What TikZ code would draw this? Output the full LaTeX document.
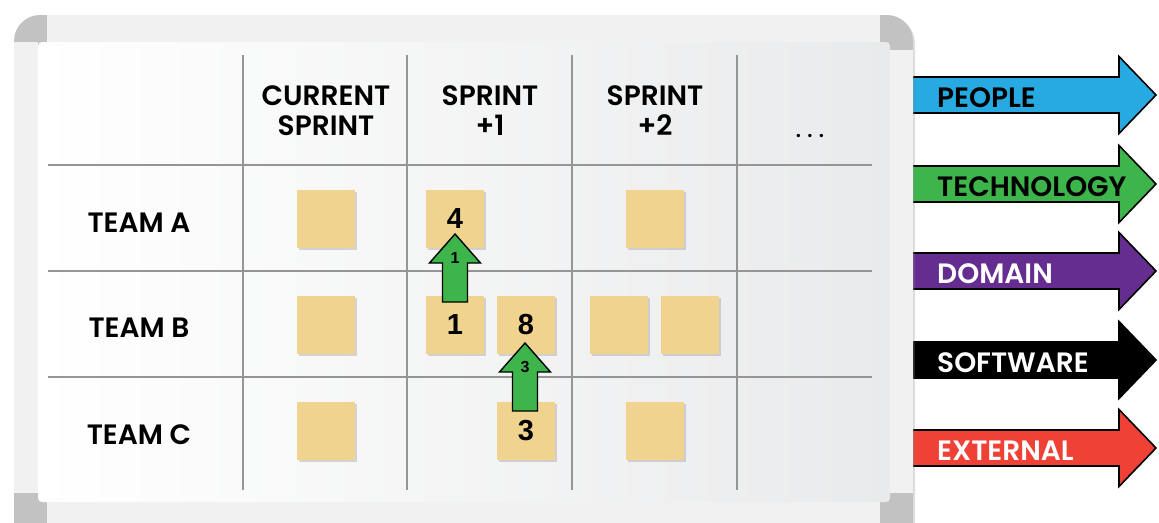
\documentclass[tikz,border=0pt]{standalone}
\usepackage{fontspec}
\setmainfont{Poppins}[UprightFont=* SemiBold]
\newfontfamily\numfont{Liberation Sans}
\usetikzlibrary{shadows}

\definecolor{framelight}{HTML}{F1F1F1}
\definecolor{framecorner}{HTML}{C2C2C2}
\definecolor{boardgray}{HTML}{E9EAEB}
\definecolor{gridgray}{HTML}{959595}
\definecolor{notetan}{HTML}{F0D38F}
\definecolor{movegreen}{HTML}{3DB54A}
\definecolor{peopleblue}{HTML}{27AAE1}
\definecolor{techgreen}{HTML}{3DB54A}
\definecolor{domainpurple}{HTML}{662D91}
\definecolor{externalred}{HTML}{EF4136}

% fat arrow leaving the board: name, y, fill, text colour, text
\newcommand{\sidearrow}[5]{%
  \draw[line width=1.6pt,fill=#3] (900,#2-18) -- (1119,#2-18) -- (1119,#2-38.5)
    -- (1156,#2) -- (1119,#2+38.5) -- (1119,#2+18) -- (900,#2+18) -- cycle;
  \node[lane,text=#4] (#1) at (937,#2+3) {#5};}
% green move arrow: name, x, tip y, label
\newcommand{\moveup}[4]{%
  \draw[line width=1.4pt,fill=movegreen] (#2-12.5,#3+68) -- (#2-12.5,#3+29)
    -- (#2-25.5,#3+29) -- (#2,#3) -- (#2+25.5,#3+29) -- (#2+12.5,#3+29)
    -- (#2+12.5,#3+68) -- cycle;
  \node[movelabel] (#1) at (#2,#3+24) {#4};}

\begin{document}
\begin{tikzpicture}[x=1pt,y=-1pt,
  lane/.style={anchor=west,inner sep=0pt,font=\fontsize{28}{30}\selectfont},
  hdr/.style={align=center,inner sep=0pt,font=\fontsize{28}{30}\selectfont},
  team/.style={inner sep=0pt,font=\fontsize{28}{30}\selectfont},
  note/.style={minimum size=58pt,inner sep=0pt,fill=notetan,
    drop shadow={shadow xshift=1.5pt,shadow yshift=-1.5pt,opacity=.3},
    font=\numfont\bfseries\fontsize{29}{29}\selectfont},
  movelabel/.style={inner sep=0pt,font=\numfont\bfseries\fontsize{16}{16}\selectfont},
  gridline/.style={gridgray,line width=1.3pt}]
\useasboundingbox (0,0) rectangle (1159,522);

% arrows to the right
\sidearrow{people}{95}{peopleblue}{black}{PEOPLE}
\sidearrow{tech}{184}{techgreen}{black}{TECHNOLOGY}
\sidearrow{domain}{271}{domainpurple}{white}{DOMAIN}
\sidearrow{software}{360}{black}{white}{SOFTWARE}
\sidearrow{external}{448}{externalred}{white}{EXTERNAL}

% the board
\fill[framecorner,rounded corners=26,
  drop shadow={shadow xshift=2pt,shadow yshift=-2pt,opacity=.25}] (14,15) rectangle (913,560);
\fill[framelight] (47,15) rectangle (880,42);
\fill[framelight] (47,502) rectangle (880,560);
\fill[framelight] (14,42) rectangle (38,493);
\fill[framelight] (890,50) rectangle (913,493);
\shade[rounded corners=4,left color=white,right color=boardgray] (38,42) rectangle (890,502);

\foreach \gx in {243,407,572,737}
  \draw[gridline] (\gx,55) -- (\gx,490);
\foreach \gy in {165,271,377}
  \draw[gridline] (48,\gy) -- (872,\gy);

\node[hdr] (cur) at (326,111) {CURRENT\\SPRINT};
\node[hdr] (sp1) at (490,111) {SPRINT\\+1};
\node[hdr] (sp2) at (655,111) {SPRINT\\+2};
\node[team,font=\fontsize{20}{20}\selectfont] (more) at (810,136) {. . .};

\node[team] (ta) at (139,223) {TEAM A};
\node[team] (tb) at (139,328) {TEAM B};
\node[team] (tc) at (139,435) {TEAM C};

% sticky notes
\node[note] (a1) at (326,219) {};
\node[note] (a2) at (455,219) {4};
\node[note] (a3) at (655,219) {};
\node[note] (b1) at (326,325) {};
\node[note] (b2) at (455,325) {1};
\node[note] (b3) at (526,325) {8};
\node[note] (b4) at (619,325) {};
\node[note] (b5) at (690,325) {};
\node[note] (c1) at (326,431) {};
\node[note] (c2) at (526,431) {3};
\node[note] (c3) at (655,431) {};

% moves
\moveup{m1}{455}{234}{1}
\moveup{m3}{525}{343}{3}
\end{tikzpicture}
\end{document}
